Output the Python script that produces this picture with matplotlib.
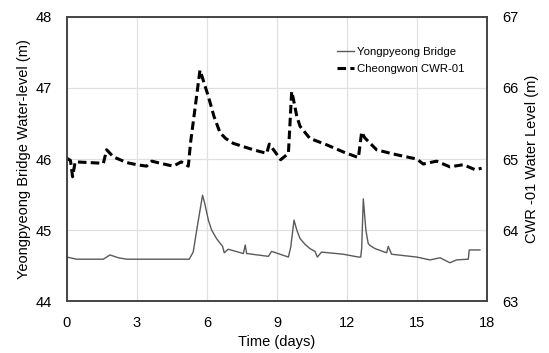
import matplotlib
matplotlib.use('Agg')
import matplotlib.pyplot as plt

plt.rcParams['font.family'] = ['Liberation Sans', 'DejaVu Sans']

# 용평교 수위 (왼쪽 축)
bridge_days = [0, 0.41, 1.56, 1.84, 2.2, 2.56, 3.99, 5.24, 5.41, 5.56, 5.81, 5.9, 6.06, 6.2,
               6.41, 6.55, 6.67, 6.74, 6.91, 7.56, 7.64, 7.7, 8.63, 8.77, 9.13, 9.49,
               9.59, 9.73, 9.85, 9.99, 10.2, 10.41, 10.63, 10.73, 10.91, 11.84, 12.49, 12.59,
               12.63, 12.7, 12.81, 12.91, 13.0, 13.2, 13.7, 13.77, 13.91, 14.99, 15.56, 15.99,
               16.41, 16.7, 17.2, 17.24, 17.7]
bridge_level = [44.62, 44.59, 44.59, 44.65, 44.61, 44.59, 44.59, 44.59, 44.69, 45.0, 45.49,
                45.38, 45.14, 45.0, 44.88, 44.82, 44.77, 44.68, 44.73, 44.67, 44.79, 44.67,
                44.63, 44.70, 44.66, 44.62, 44.76, 45.14, 45.0, 44.88, 44.80, 44.74, 44.70,
                44.62, 44.69, 44.66, 44.62, 44.62, 44.74, 45.44, 45.0, 44.81, 44.78, 44.74,
                44.68, 44.77, 44.66, 44.62, 44.58, 44.61, 44.54, 44.58, 44.59, 44.72, 44.72]

# 청원 CWR-01 수위 (오른쪽 축)
cwr_days = [0, 0.15, 0.24, 0.35, 1.56, 1.70, 1.99, 2.56, 2.99, 3.41, 3.64, 4.0, 4.56, 4.9,
            5.2, 5.3, 5.70, 5.80, 6.06, 6.3, 6.56, 6.8, 7.13, 7.99, 8.56, 8.67, 8.92, 9.16,
            9.49, 9.63, 9.7, 9.85, 9.99, 10.41, 11.13, 11.84, 12.49, 12.63, 12.76, 13.27,
            13.99, 14.99, 15.27, 15.84, 16.41, 16.99, 17.49, 17.77]
cwr_level = [65.01, 64.98, 64.75, 64.96, 64.94, 65.13, 65.03, 64.95, 64.92, 64.90, 64.97,
             64.94, 64.90, 64.96, 64.90, 65.24, 66.25, 66.15, 65.88, 65.60, 65.37, 65.29,
             65.22, 65.13, 65.08, 65.21, 65.10, 64.99, 65.08, 65.95, 65.85, 65.60, 65.46,
             65.29, 65.20, 65.10, 65.02, 65.38, 65.30, 65.13, 65.07, 65.00, 64.93, 64.97,
             64.89, 64.92, 64.85, 64.87]

x_ticks = [0, 3, 6, 9, 12, 15, 18]

fig = plt.figure(figsize=(5.49, 3.53), dpi=100)
ax = fig.add_axes([0.122, 0.147, 0.765, 0.805])
ax2 = ax.twinx()

l1, = ax.plot(bridge_days, bridge_level, color='#5a5a5a', lw=1.0, label='Yongpyeong Bridge')
l2, = ax2.plot(cwr_days, cwr_level, color='black', lw=2.2, ls=(0, (2.8, 1.4)),
               label='Cheongwon CWR-01')

ax.set_xlim(0, 18)
ax.set_ylim(44, 48)
ax2.set_ylim(63, 67)
ax.set_xticks(x_ticks)
ax.set_yticks([44, 45, 46, 47, 48])
ax2.set_yticks([63, 64, 65, 66, 67])

ax.grid(True, color='#e0e0e0', lw=0.9)
ax.set_axisbelow(True)

ax.tick_params(length=0, pad=11, labelsize=10.5)
ax2.tick_params(length=0, pad=11, labelsize=10.5)

for a in (ax, ax2):
    for s in a.spines.values():
        s.set_color('#444444')
        s.set_linewidth(1.2)

ax.set_xlabel('Time (days)', fontsize=10.5, labelpad=3)
ax.set_ylabel('Yeongpyeong Bridge Water-level (m)', fontsize=10.5, labelpad=3)
ax2.set_ylabel('CWR -01 Water Level (m)', fontsize=10.5, labelpad=5)

ax2.legend([l1, l2], ['Yongpyeong Bridge', 'Cheongwon CWR-01'], loc='upper right',
           bbox_to_anchor=(0.97, 0.93), frameon=False, fontsize=8.2, handlelength=1.5,
           handletextpad=0.2, labelspacing=0.6)

plt.savefig('out.png', dpi=100)
